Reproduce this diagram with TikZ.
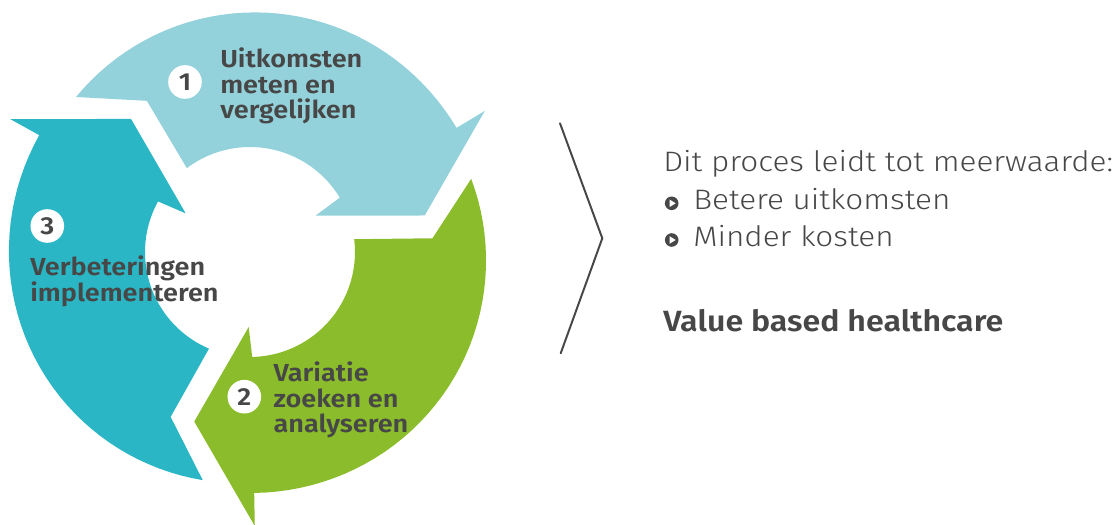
\documentclass[tikz,border=0pt]{standalone}
\usepackage{fontspec}
\setmainfont{Fira Sans}
\newfontfamily\lightfont{Fira Sans Light}[FakeStretch=1.12]
\newfontfamily\boldfont{Fira Sans SemiBold}[FakeStretch=1.1]
\definecolor{stepone}{HTML}{93D1DB}
\definecolor{steptwo}{HTML}{8ABC2B}
\definecolor{stepthree}{HTML}{2AB6C4}
\definecolor{textgray}{HTML}{474747}

\begin{document}
\begin{tikzpicture}
    [%%%%%%%%%%%%%%%%%%%%%%%%%%%%%%
        x=0.025cm, y=0.025cm,
        number/.style={circle, fill=white, minimum size=0.84cm, inner sep=0pt, text=textgray, font=\boldfont\fontsize{17.5}{18}\selectfont},
        steptext/.style={anchor=west, align=left, inner sep=0pt, text=textgray, font=\boldfont\fontsize{17.5}{17.9}\selectfont},
        bodytext/.style={anchor=base west, inner sep=0pt, text=textgray, font=\lightfont\fontsize{20}{22}\selectfont},
        bullet/.style={circle, fill=textgray, minimum size=0.34cm, inner sep=0pt},
    ]%%%%%%%%%%%%%%%%%%%%%%%%%%%%%%
\useasboundingbox (-250,-273) rectangle (870,252);

% three arrows of the cycle, one shape turned by 120 degrees
\foreach \turn/\col in {0/stepthree, -120/stepone, -240/steptwo}
    \fill[\col, rotate=\turn] plot[domain=258.3:151, samples=40] (\x:{233+0.0746*(258.3-\x)+3*sin(1.6775*(258.3-\x))})
        -- (151:274) -- (131.8:178.5) -- (149:75)
        -- plot[domain=151.2:247, samples=30] (\x:105) -- (244.3:183) -- cycle;

\node[number] (num1) at (-65,170) {1};
\node[number] (num2) at (-5.7,-144.7) {2};
\node[number] (num3) at (-202.7,26) {3};

\node[steptext] (txt1) at (-30,166) {Uitkomsten\\meten en\\vergelijken};
\node[steptext] (txt2) at (23.3,-148) {Variatie\\zoeken en\\analyseren};
\node[steptext] (txt3) at (-220,-29.5) {Verbeteringen\\implementeren};

% chevron
\draw[textgray, line width=1.4pt, line cap=round] (310,128.7) -- (352.3,13.7) -- (310.7,-101.3);

\node[bodytext] (intro) at (413,80.3) {Dit proces leidt tot meerwaarde:};
\node[bullet] (dot1) at (421.7,48.7) {};
\node[bodytext] (gain1) at (443,42) {Betere uitkomsten};
\node[bullet] (dot2) at (421.7,12) {};
\node[bodytext] (gain2) at (443,5.3) {Minder kosten};
\foreach \dot in {dot1, dot2}
    \fill[white, shift={(\dot.center)}] (-2.2,3.8) -- (4,0) -- (-2.2,-3.8) -- cycle;

\node[bodytext, font=\boldfont\fontsize{20.8}{22}\selectfont] (vbhc) at (413,-79.7) {Value based healthcare};
\end{tikzpicture}
\end{document}
